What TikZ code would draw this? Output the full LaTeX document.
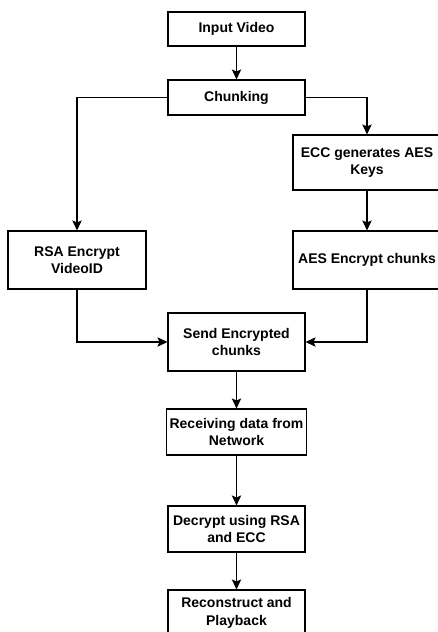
\documentclass[tikz,border=0pt]{standalone}
\usepackage{fontspec}
\setmainfont{Liberation Sans}
\usetikzlibrary{arrows.meta}

\begin{document}
\begin{tikzpicture}[x=0.75pt, y=-0.75pt,
    stagebox/.style={draw, line width=0.8pt, rectangle, align=center, font=\bfseries\fontsize{10.5}{13}\selectfont, inner sep=2pt},
    flow/.style={line width=0.8pt, -{Stealth[length=7.5pt, width=7pt, inset=1.5pt]}}]
            \useasboundingbox (0,0) rectangle (438,632);

            % Top
            \node[stagebox, minimum width=137*0.75pt, minimum height=34*0.75pt] (input) at (236.5,29) {Input Video};
            \node[stagebox, minimum width=137*0.75pt, minimum height=35*0.75pt] (chunk) at (236.5,97.5) {Chunking};

            % Branches
            \node[stagebox, minimum width=148*0.75pt, minimum height=55*0.75pt] (ecc) at (367,162.5) {ECC generates AES\\Keys};
            \node[stagebox, minimum width=148*0.75pt, minimum height=58*0.75pt] (aes) at (367,260) {AES Encrypt chunks};
            \node[stagebox, minimum width=138*0.75pt, minimum height=58*0.75pt] (rsa) at (77,260) {RSA Encrypt\\VideoID};

            % Bottom
            \node[stagebox, minimum width=137*0.75pt, minimum height=58*0.75pt] (send) at (236.5,342) {Send Encrypted\\chunks};
            \node[stagebox, minimum width=137*0.75pt, minimum height=46*0.75pt] (recv) at (236.5,432) {Receiving data from\\Network};
            \node[stagebox, minimum width=137*0.75pt, minimum height=46*0.75pt] (decrypt) at (236.5,529) {Decrypt using RSA\\and ECC};
            \node[stagebox, minimum width=137*0.75pt, minimum height=46*0.75pt] (rebuild) at (236.5,613) {Reconstruct and\\Playback};

            % Connections
            \draw[flow] (input) -- (chunk);
            \draw[flow] (chunk.west) -| (rsa.north);
            \draw[flow] (chunk.east) -| (ecc.north);
            \draw[flow] (ecc) -- (aes);
            \draw[flow] (rsa.south) |- (send.west);
            \draw[flow] (aes.south) |- (send.east);
            \draw[flow] (send) -- (recv);
            \draw[flow] (recv) -- (decrypt);
            \draw[flow] (decrypt) -- (rebuild);

        \end{tikzpicture}
\end{document}
